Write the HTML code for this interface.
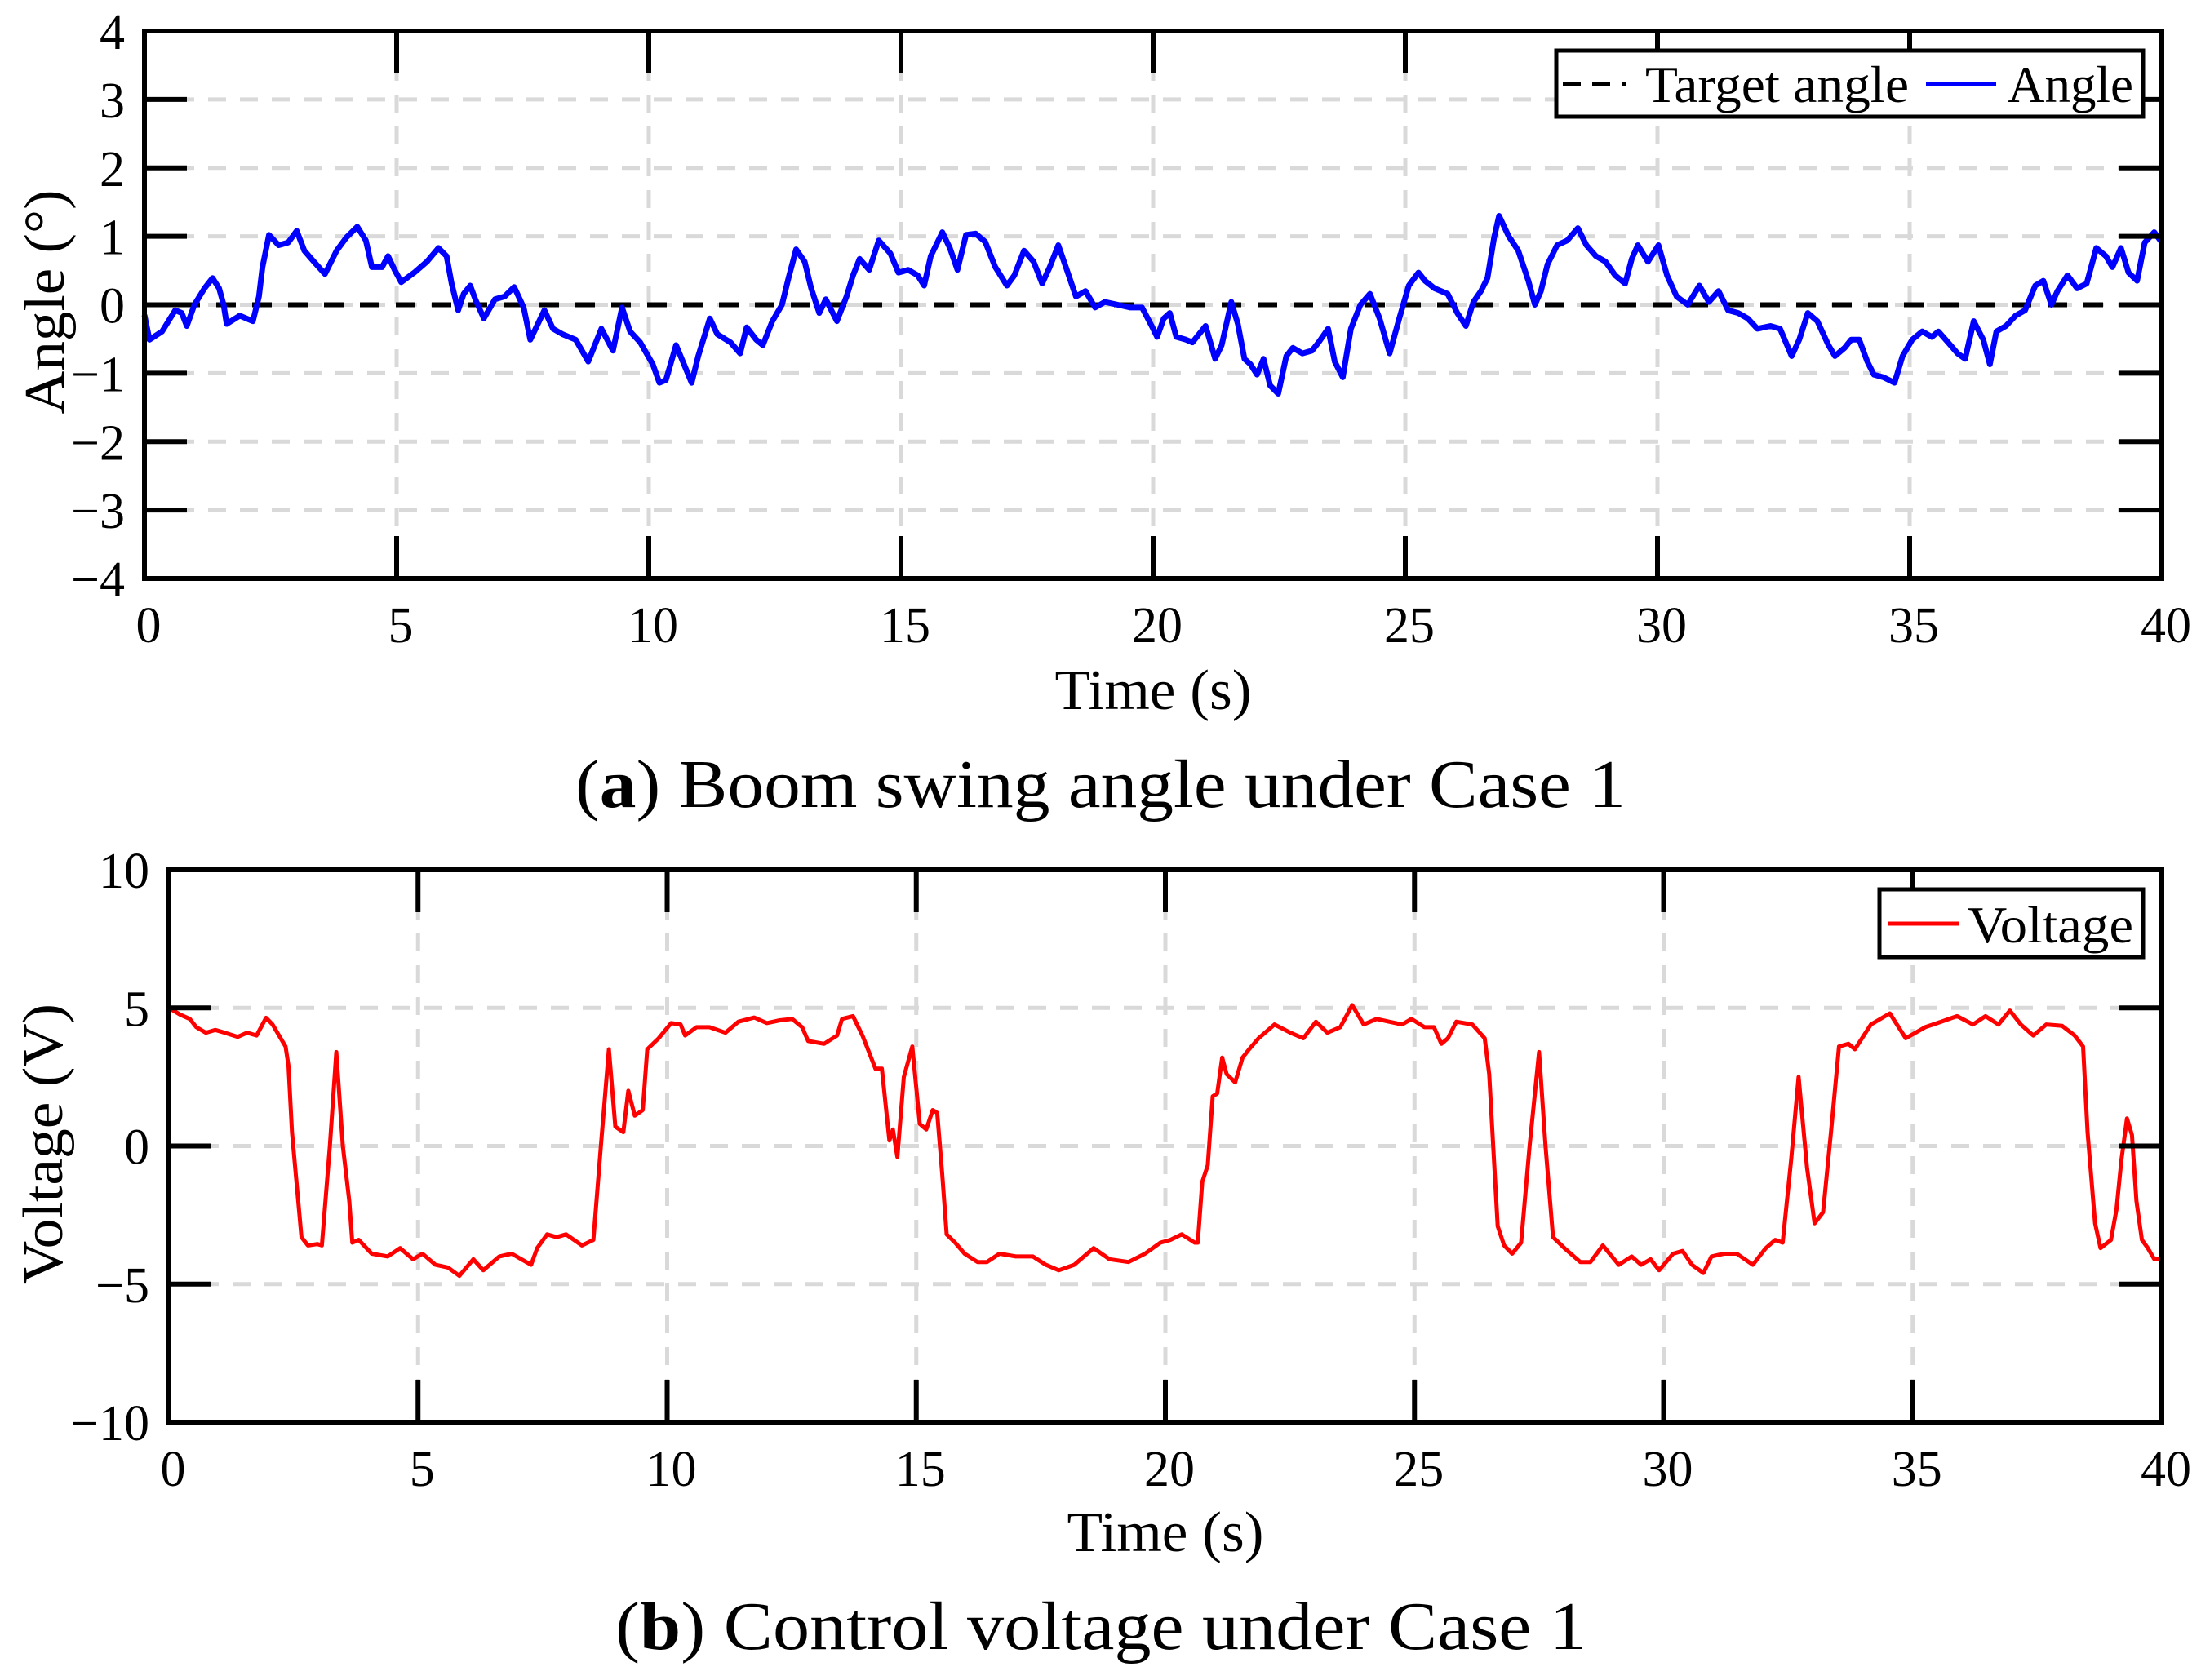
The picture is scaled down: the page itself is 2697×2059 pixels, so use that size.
<!DOCTYPE html>
<html><head><meta charset="utf-8"><style>
html,body{margin:0;padding:0;background:#fff;}
svg{display:block;font-family:"Liberation Serif",serif;}
</style></head><body>
<svg id="fig" width="2697" height="2059" viewBox="0 0 2697 2059" xmlns="http://www.w3.org/2000/svg"></svg>
<script>
// ---- data: panel (a) angle ----
const angleT = [0,0.10,0.35,0.61,0.74,0.84,0.99,1.19,1.35,1.48,1.57,1.63,1.89,2.15,2.27,2.34,2.47,2.66,2.85,3.02,3.17,3.36,3.58,3.81,4.0,4.22,4.39,4.51,4.71,4.83,4.96,5.09,5.35,5.60,5.83,5.99,6.09,6.22,6.33,6.46,6.56,6.73,6.95,7.14,7.33,7.52,7.65,7.93,8.1,8.29,8.55,8.8,9.06,9.29,9.47,9.63,9.83,10.08,10.21,10.34,10.54,10.85,10.98,11.21,11.36,11.62,11.81,11.94,12.13,12.26,12.45,12.64,12.77,12.92,13.09,13.22,13.38,13.51,13.73,13.92,14.05,14.18,14.37,14.56,14.79,14.95,15.14,15.33,15.46,15.59,15.82,15.97,16.12,16.29,16.48,16.67,16.87,17.1,17.25,17.44,17.63,17.8,17.95,18.12,18.27,18.47,18.66,18.85,19.04,19.3,19.55,19.78,20.0,20.08,20.21,20.33,20.46,20.65,20.78,20.91,21.04,21.23,21.36,21.55,21.68,21.81,21.93,22.06,22.19,22.32,22.48,22.64,22.77,22.96,23.15,23.28,23.47,23.6,23.76,23.92,24.11,24.30,24.49,24.69,24.88,25.07,25.26,25.39,25.58,25.84,26.03,26.2,26.35,26.5,26.63,26.76,26.86,27.05,27.24,27.44,27.57,27.69,27.82,28.01,28.21,28.42,28.59,28.78,28.97,29.16,29.36,29.49,29.61,29.81,30.02,30.19,30.38,30.6,30.83,31.02,31.21,31.4,31.6,31.79,31.98,32.24,32.43,32.66,32.81,32.98,33.17,33.39,33.52,33.71,33.84,34.0,34.16,34.29,34.48,34.7,34.86,35.05,35.25,35.44,35.57,35.76,35.95,36.1,36.27,36.46,36.59,36.72,36.91,37.1,37.29,37.49,37.65,37.81,37.93,38.13,38.32,38.51,38.7,38.89,39.02,39.19,39.34,39.51,39.66,39.85,40.0];
const angleV = [-0.15,-0.51,-0.39,-0.08,-0.12,-0.31,0,0.24,0.39,0.24,0,-0.28,-0.16,-0.24,0.12,0.55,1.02,0.87,0.91,1.08,0.79,0.63,0.45,0.79,0.98,1.14,0.94,0.55,0.55,0.71,0.51,0.33,0.47,0.63,0.83,0.71,0.31,-0.08,0.16,0.28,0.08,-0.2,0.08,0.12,0.26,-0.04,-0.51,-0.08,-0.35,-0.43,-0.51,-0.83,-0.35,-0.67,-0.04,-0.39,-0.55,-0.87,-1.14,-1.10,-0.59,-1.14,-0.75,-0.2,-0.43,-0.55,-0.71,-0.33,-0.51,-0.59,-0.24,0,0.39,0.81,0.63,0.24,-0.12,0.08,-0.24,0.12,0.43,0.67,0.51,0.94,0.75,0.47,0.51,0.43,0.28,0.71,1.06,0.83,0.51,1.02,1.04,0.92,0.55,0.28,0.43,0.79,0.63,0.31,0.55,0.87,0.55,0.12,0.2,-0.04,0.04,0,-0.04,-0.04,-0.35,-0.47,-0.2,-0.12,-0.47,-0.51,-0.55,-0.43,-0.31,-0.79,-0.59,0.04,-0.28,-0.79,-0.87,-1.02,-0.79,-1.18,-1.30,-0.75,-0.63,-0.71,-0.67,-0.55,-0.35,-0.83,-1.06,-0.35,0.0,0.16,-0.20,-0.71,-0.2,0.28,0.47,0.35,0.24,0.16,-0.12,-0.31,0.04,0.20,0.39,0.98,1.30,1.0,0.79,0.35,0.0,0.2,0.59,0.87,0.94,1.12,0.87,0.71,0.63,0.43,0.31,0.67,0.87,0.63,0.87,0.43,0.12,0.0,0.28,0.04,0.20,-0.08,-0.12,-0.2,-0.35,-0.31,-0.35,-0.75,-0.51,-0.12,-0.24,-0.59,-0.75,-0.63,-0.51,-0.51,-0.83,-1.02,-1.06,-1.14,-0.75,-0.51,-0.39,-0.47,-0.39,-0.55,-0.71,-0.79,-0.24,-0.51,-0.87,-0.39,-0.31,-0.16,-0.08,0.28,0.35,0.0,0.2,0.43,0.24,0.31,0.83,0.71,0.55,0.83,0.47,0.35,0.91,1.06,0.91];
const targetAngle = 0;
// ---- data: panel (b) voltage ----
const voltT = [0,0.23,0.42,0.55,0.74,0.93,1.12,1.38,1.57,1.76,1.95,2.08,2.21,2.34,2.4,2.47,2.57,2.66,2.79,2.98,3.07,3.23,3.36,3.49,3.62,3.68,3.81,4.07,4.39,4.64,4.9,5.09,5.35,5.6,5.83,6.11,6.31,6.63,6.88,7.27,7.39,7.59,7.78,7.97,8.29,8.52,8.67,8.83,8.96,9.12,9.22,9.35,9.51,9.6,9.83,10.08,10.27,10.36,10.59,10.85,11.17,11.43,11.75,12.0,12.26,12.51,12.71,12.83,13.15,13.41,13.51,13.73,13.92,14.05,14.18,14.31,14.46,14.53,14.62,14.75,14.92,15.07,15.2,15.33,15.42,15.52,15.61,15.78,15.97,16.23,16.42,16.67,17.0,17.34,17.6,17.86,18.17,18.56,18.88,19.26,19.59,19.9,20.1,20.33,20.59,20.65,20.74,20.85,20.95,21.04,21.14,21.23,21.4,21.55,21.68,21.87,22.19,22.51,22.77,23.02,23.25,23.51,23.75,23.98,24.24,24.49,24.75,24.94,25.2,25.39,25.54,25.67,25.84,26.16,26.41,26.5,26.58,26.67,26.8,26.96,27.14,27.31,27.5,27.63,27.78,28.01,28.33,28.53,28.78,29.1,29.36,29.55,29.74,29.91,30.19,30.38,30.57,30.8,30.96,31.21,31.47,31.79,32.05,32.24,32.39,32.56,32.71,32.88,33.03,33.2,33.36,33.52,33.71,33.84,34.16,34.54,34.86,35.25,35.57,35.89,36.21,36.46,36.72,36.95,37.17,37.42,37.68,38.0,38.25,38.42,38.51,38.66,38.77,38.98,39.09,39.19,39.3,39.4,39.49,39.6,39.72,39.85,40.0];
const voltV = [5.0,4.75,4.6,4.3,4.1,4.2,4.1,3.95,4.1,4.0,4.64,4.4,4.0,3.6,2.9,0.5,-1.5,-3.3,-3.6,-3.55,-3.6,0,3.4,0,-2.0,-3.5,-3.4,-3.9,-4.0,-3.7,-4.1,-3.9,-4.3,-4.4,-4.7,-4.1,-4.5,-4.0,-3.9,-4.3,-3.7,-3.2,-3.3,-3.2,-3.6,-3.4,0,3.5,0.7,0.5,2.0,1.1,1.3,3.5,3.9,4.45,4.4,4.0,4.3,4.3,4.1,4.5,4.65,4.45,4.55,4.6,4.3,3.8,3.7,4.0,4.6,4.7,4.0,3.4,2.8,2.8,0.2,0.6,-0.4,2.5,3.6,0.8,0.6,1.3,1.2,-1.0,-3.2,-3.5,-3.9,-4.2,-4.2,-3.9,-4.0,-4.0,-4.3,-4.5,-4.3,-3.7,-4.1,-4.2,-3.9,-3.5,-3.4,-3.2,-3.5,-3.5,-1.3,-0.7,1.8,1.9,3.2,2.6,2.3,3.2,3.5,3.9,4.4,4.1,3.9,4.5,4.1,4.3,5.1,4.4,4.6,4.5,4.4,4.6,4.3,4.3,3.7,3.9,4.5,4.4,3.9,2.6,0,-2.9,-3.6,-3.9,-3.5,0.0,3.4,0,-3.3,-3.7,-4.2,-4.2,-3.6,-4.3,-4.0,-4.3,-4.1,-4.5,-3.9,-3.8,-4.3,-4.6,-4.0,-3.9,-3.9,-4.3,-3.7,-3.4,-3.5,-0.5,2.5,-0.8,-2.8,-2.4,0.5,3.6,3.7,3.5,4.4,4.8,3.9,4.3,4.5,4.7,4.4,4.7,4.4,4.9,4.4,4.0,4.4,4.35,4.0,3.6,0.5,-2.8,-3.7,-3.4,-2.3,-0.5,1.0,0.4,-2.0,-3.4,-3.7,-4.1,-4.1];
// ---- ticks ----
const xTicks = [0,5,10,15,20,25,30,35,40];
const yTicksA = [-4,-3,-2,-1,0,1,2,3,4];
const yTicksB = [-10,-5,0,5,10];

const NS = "http://www.w3.org/2000/svg";
const svg = document.getElementById('fig');
function mk(tag, attrs, parent){
  const e = document.createElementNS(NS, tag);
  for (const k in attrs) e.setAttribute(k, attrs[k]);
  (parent||svg).appendChild(e);
  return e;
}
function txt(s, attrs, parent){ const e = mk('text', attrs, parent); e.textContent = s; return e; }

function panel(cfg){
  const g = mk('g', {});
  
  
  const L=cfg.L,R=cfg.R,T=cfg.T,B=cfg.B;
  const xs = t => L + (t-0)/(40-0)*(R-L);
  const ys = v => B - (v-cfg.ymin)/(cfg.ymax-cfg.ymin)*(B-T);
  const grid = mk('g', {stroke:'#d9d9d9','stroke-width':5,'stroke-dasharray':'22 17'}, g);
  
  
  xTicks.forEach(t=>{ if(t>0&&t<40) mk('line',{x1:xs(t),x2:xs(t),y1:T,y2:B},grid); });
  cfg.yTicks.forEach(v=>{ if(v>cfg.ymin&&v<cfg.ymax) mk('line',{x1:L,x2:R,y1:ys(v),y2:ys(v)},grid); });
  if (cfg.target!==undefined){
    const tl = mk('line',{x1:L,x2:R,y1:ys(cfg.target),y2:ys(cfg.target),stroke:'#000','stroke-width':6,'stroke-dasharray':'24 20'},g);
    
    
  }
  let d='';
  cfg.t.forEach((t,i)=>{ d += (i?'L':'M')+xs(t).toFixed(1)+' '+ys(cfg.v[i]).toFixed(1); });
  const p = mk('path',{d:d,fill:'none',stroke:cfg.color,'stroke-width':cfg.lw,'stroke-linejoin':'round'},g);
  
  
  const tk = mk('g',{stroke:'#000','stroke-width':6},g);
  
  
  xTicks.forEach(t=>{ if(t>0&&t<40){ mk('line',{x1:xs(t),x2:xs(t),y1:B,y2:B-52},tk); mk('line',{x1:xs(t),x2:xs(t),y1:T,y2:T+52},tk);} });
  cfg.yTicks.forEach(v=>{ if(v>cfg.ymin&&v<cfg.ymax){ mk('line',{x1:L,x2:L+52,y1:ys(v),y2:ys(v)},tk); mk('line',{x1:R,x2:R-52,y1:ys(v),y2:ys(v)},tk);} });
  const fr = mk('rect',{x:L,y:T,width:R-L,height:B-T,fill:'none',stroke:'#000','stroke-width':6},g);
  
  
  xTicks.forEach(t=>{
    const e = txt(String(t),{x:xs(t)+5,y:B+78,'font-size':62,'text-anchor':'middle'},g);
    
    
  });
  cfg.yTicks.forEach(v=>{
    const s = v<0 ? '\u2212'+Math.abs(v) : String(v);
    const e = txt(s,{x:L-24,y:ys(v)+22,'font-size':62,'text-anchor':'end'},g);
    
    
  });
  const xt = txt('Time (s)',{x:(L+R)/2,y:cfg.xTitleY,'font-size':70,'text-anchor':'middle',textLength:241,lengthAdjust:'spacingAndGlyphs'},g);
  
  
  const yt = txt(cfg.ytitle,{x:0,y:0,'font-size':70,'text-anchor':'middle',textLength:cfg.ytLen,lengthAdjust:'spacingAndGlyphs',transform:'translate('+cfg.ytX+','+cfg.ytY+') rotate(-90)'},g);
  
  
  const cap = mk('text',{x:cfg.capX,y:cfg.capY,'font-size':84,textLength:cfg.capLen,lengthAdjust:'spacingAndGlyphs'},g);
  
  
  const t1=document.createElementNS(NS,'tspan'); t1.textContent='('; cap.appendChild(t1);
  const t2=document.createElementNS(NS,'tspan'); t2.setAttribute('font-weight','bold'); t2.textContent=cfg.letter; cap.appendChild(t2);
  const t3=document.createElementNS(NS,'tspan'); t3.textContent=') '+cfg.caption; cap.appendChild(t3);
  return g;
}

panel({name:'angle-panel',L:177,R:2649,T:38,B:709,ymin:-4,ymax:4,yTicks:yTicksA,t:angleT,v:angleV,color:'#0000ff',lw:7,
  seriesName:'angle-line',target:targetAngle,ytitle:'Angle (°)',ytLen:275,ytX:78,ytY:370,xTitleY:869,capX:705,capY:989,capLen:1287,letter:'a',caption:'Boom swing angle under Case 1'});
panel({name:'voltage-panel',L:207,R:2649,T:1066,B:1743,ymin:-10,ymax:10,yTicks:yTicksB,t:voltT,v:voltV,color:'#ff0000',lw:5,
  seriesName:'voltage-line',ytitle:'Voltage (V)',ytLen:344,ytX:76,ytY:1402,xTitleY:1901,capX:754,capY:2021,capLen:1190,letter:'b',caption:'Control voltage under Case 1'});

const lgA = mk('g',{});


mk('rect',{x:1907,y:62,width:719,height:81,fill:'#fff',stroke:'#000','stroke-width':5},lgA);
const le1 = mk('line',{x1:1915,x2:1992,y1:103,y2:103,stroke:'#000','stroke-width':5,'stroke-dasharray':'22 14'},lgA);


const lt1 = txt('Target angle',{x:2016,y:125,'font-size':64,textLength:323,lengthAdjust:'spacingAndGlyphs'},lgA);


const le2 = mk('line',{x1:2360,x2:2446,y1:103,y2:103,stroke:'#0000ff','stroke-width':5},lgA);


const lt2 = txt('Angle',{x:2460,y:125,'font-size':64,textLength:154,lengthAdjust:'spacingAndGlyphs'},lgA);



const lgB = mk('g',{});


mk('rect',{x:2303,y:1090,width:323,height:83,fill:'#fff',stroke:'#000','stroke-width':5},lgB);
const le3 = mk('line',{x1:2313,x2:2400,y1:1132,y2:1132,stroke:'#ff0000','stroke-width':5},lgB);


const lt3 = txt('Voltage',{x:2411,y:1155,'font-size':64,textLength:203,lengthAdjust:'spacingAndGlyphs'},lgB);


</script>
</body></html>
